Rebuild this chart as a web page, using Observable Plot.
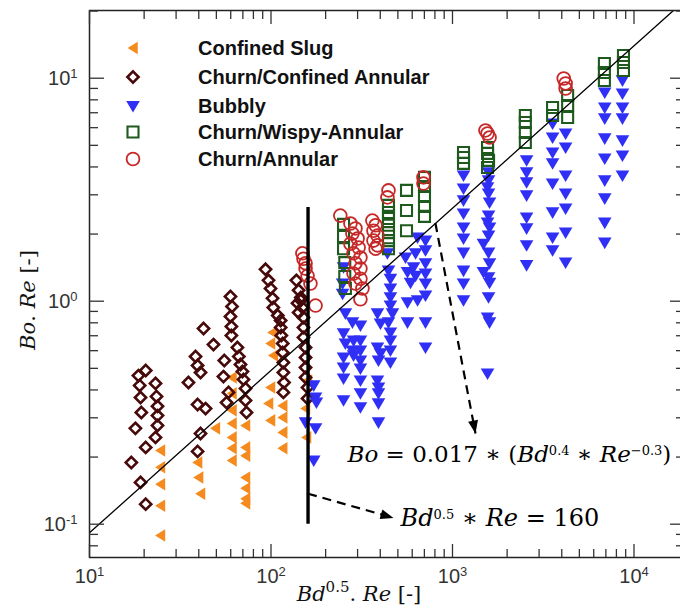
<!DOCTYPE html>
<html>
<head>
<meta charset="utf-8">
<script src="https://cdn.jsdelivr.net/npm/d3@7"></script>
<script src="https://cdn.jsdelivr.net/npm/@observablehq/plot@0.6"></script>
<style>
  html, body { margin: 0; padding: 0; background: #fff; overflow: hidden; }
  #chart { position: relative; width: 680px; height: 608px; overflow: hidden; }
</style>
</head>
<body>
<div id="chart"></div>
<script>
// ---------------- DATA ----------------
const seriesNames = ["Confined Slug", "Churn/Confined Annular", "Bubbly", "Churn/Wispy-Annular", "Churn/Annular"];

// [Bd^0.5.Re, Bo.Re]
const confinedSlug = [
  [24.6,0.214],[24.6,0.180],[24.6,0.151],[24.6,0.121],[24.6,0.089],
  [39.4,0.189],[39.9,0.162],[40.9,0.137],[49.4,0.269],
  [61,0.455],[61,0.386],[61,0.324],[61,0.283],[61,0.245],[61,0.219],[61,0.193],
  [72.4,0.277],[72.4,0.221],[72.4,0.203],[72.4,0.162],[72.4,0.145],[72.4,0.130],[72.4,0.124],
  [102,0.724],[99.4,0.646],[103,0.571],[99.4,0.410],[96.9,0.348],[99.4,0.292],
  [116,0.340],[116,0.301],[116,0.258],[116,0.219],
  [159,0.441],[155,0.330],[157,0.245]
];
const churnConfinedAnnular = [
  [20.4,0.489],[18.6,0.464],[18.9,0.419],[19.1,0.370],[19.3,0.317],[17.9,0.269],[20.4,0.221],[17.0,0.189],[19.1,0.154],[20.4,0.123],
  [23.1,0.428],[23.4,0.374],[23.7,0.338],[23.7,0.307],[23.7,0.277],[23.1,0.245],
  [42.5,0.754],[48.2,0.639],[38.4,0.565],[39.4,0.515],[40.9,0.479],[35.1,0.432],[39.4,0.344],[43.6,0.330],[40.9,0.255],[39.4,0.212],
  [59.8,1.05],[61,0.947],[59.8,0.854],[60.5,0.770],[60.5,0.702],[65.3,0.620],[66.5,0.565],[55.3,0.542],[67.9,0.520],[69.6,0.484],
  [54.7,0.459],[70.5,0.446],[72.4,0.406],[58.3,0.390],[72.4,0.359],[56.9,0.351],[73.3,0.317],
  [93.3,1.39],[96.9,1.24],[99.4,1.14],[102,1.03],[103,0.937],[109,0.863],[113,0.819],[113,0.762],[114,0.702],[116,0.646],
  [116,0.589],[117,0.531],[117,0.479],[118,0.432],[117,0.390],
  [138,1.24],[142,1.12],[146,1.04],[149,0.937],[142,0.890],[151,0.845],[151,0.762],[151,0.688],[155,0.620],[155,0.559],
  [155,0.504],[155,0.455],[159,0.410],[159,0.366],[140,0.98],[146,1.01]
];
const bubbly = [
  [172,0.419],[176,0.370],[178,0.351],[155,0.286],[176,0.269],[172,0.193],
  [251,1.42],[248,1.20],[248,1.08],[257,0.881],[251,0.717],[257,0.646],[251,0.559],[251,0.504],[251,0.450],[251,0.359],
  [281,0.803],[285,0.666],[281,0.601],[285,0.571],
  [311,0.778],[311,0.666],[311,0.601],[311,0.542],[311,0.499],[311,0.441],[311,0.386],[311,0.334],
  [386,0.881],[401,0.794],[386,0.620],[401,0.583],[391,0.542],[386,0.441],[391,0.410],[391,0.386],[391,0.348],[391,0.286],
  [438,1.64],[444,1.37],[455,1.26],[455,1.14],[455,1.04],[455,0.956],[467,0.881],[444,0.803],[455,0.724],[455,0.666],[455,0.601],[455,0.531],
  [551,1.57],[565,1.35],[587,1.21],[610,1.42],[626,1.30],[626,1.64],[642,1.93],[710,1.87],[710,1.69],[710,1.48],[710,1.33],
  [710,1.20],[710,1.06],[642,1.01],[565,0.987],[565,0.803],[710,0.803],[710,0.620],
  [1150,3.66],[1150,3.20],[1150,2.83],[1150,2.47],[1150,2.14],[1150,1.91],[1150,1.65],[1150,1.37],[1150,1.20],[1150,1.01],
  [1580,3.78],[1580,3.48],[1560,3.24],[1580,3.04],[1600,2.77],[1580,2.42],[1560,2.25],[1600,2.14],[1580,1.97],[1480,1.81],
  [1580,1.65],[1600,1.48],[1480,1.35],[1580,1.28],[1600,1.21],[1580,1.04],[1560,0.845],[1600,0.803],[1560,0.474],
  [2560,4.28],[2560,3.78],[2560,3.41],[2560,2.98],[2560,2.37],[2560,2.12],[2560,1.78],[2560,1.45],
  [3560,6.26],[3560,5.42],[3560,4.64],[3560,4.15],[3560,3.37],[3560,2.50],[3560,1.93],[3560,1.69],
  [4200,5.65],[4200,4.89],[4200,3.66],[4200,3.04],[4200,2.60],[4200,2.03],[4200,1.49],
  [6900,8.63],[6900,7.39],[6900,6.60],[6900,5.37],[6900,4.36],[6900,3.48],[6900,2.89],[6900,2.25],[6900,1.83],
  [8640,9.77],[8640,8.54],[8640,7.39],[8640,6.60],[8640,5.26],[8640,4.50],[8640,3.66]
];
const churnWispyAnnular = [
  [251,2.21],[251,1.95],[251,1.72],[255,1.49],[255,1.29],[257,1.14],
  [444,2.69],[444,2.50],[444,2.35],[444,2.19],[444,2.03],[444,1.87],[444,1.72],
  [558,3.14],[558,2.55],[558,2.07],
  [701,3.59],[701,3.27],[701,2.95],[701,2.66],[701,2.40],
  [1150,4.64],[1150,4.41],[1150,4.15],
  [1560,4.89],[1560,4.60],[1580,4.28],[1560,3.98],
  [2520,6.80],[2520,6.33],[2520,5.71],[2520,5.15],
  [3560,7.39],[3560,6.80],
  [4310,8.36],[4310,7.54],[4310,6.66],
  [6870,11.64],[6870,10.61],[6870,9.77],
  [8750,12.64],[8750,11.76],[8750,10.83]
];
const churnAnnular = [
  [149,1.64],[151,1.55],[155,1.48],[155,1.40],[159,1.30],[165,1.20],[176,0.956],
  [241,2.42],
  [274,2.23],[292,2.12],[281,2.01],[300,1.91],[274,1.81],[304,1.74],[285,1.64],[311,1.57],[292,1.48],[311,1.40],
  [285,1.33],[311,1.26],[292,1.20],[319,1.14],[311,1.02],
  [362,2.30],[377,2.19],[367,2.07],[386,1.97],[367,1.87],[386,1.78],[377,1.72],
  [444,3.14],[438,2.92],
  [692,3.59],[692,3.37],
  [1520,5.83],[1560,5.65],[1600,5.42],
  [4100,9.97],[4200,9.47],[4200,8.99]
];

// correlation line and transition boundary
const fitLine = [[10, 0.0915], [16500, 20.1]];
const boundaryX = [160];
const boundaryY = [0.1, 2.63];

// annotations: arrow start/end and label anchors
const arrows = [
  {x1: 805, y1: 2.24, x2: 1339, y2: 0.255},
  {x1: 160, y1: 0.137, x2: 473, y2: 0.1067}
];
const annotations = [
  {x: 264, y: 0.2054, label: "~Bo~ = 0.017 ∗ (~Bd~^{0.4} ∗ ~Re~^{−0.3})", size: 23},
  {x: 517, y: 0.1068, label: "~Bd~^{0.5} ∗ ~Re~ = 160", size: 24}
];

// axes
const xDomain = [10, 18980];
const yDomain = [0.0709, 20.12];
const xMajor = [10, 100, 1000, 10000];
const yMajor = [0.1, 1, 10];
const minorMult = [2, 3, 4, 5, 6, 7, 8, 9];
const xTitle = "~Bd~^{0.5}. ~Re~ [-]";
const yTitle = "~Bo~. ~Re~ [-]";

// ---------------- STYLES ----------------
const rad = s => Math.sqrt(s / Math.PI);
const symTriLeft = {draw(c, s) { const r = rad(s); c.moveTo(-0.85*r, 0); c.lineTo(0.75*r, -r); c.lineTo(0.75*r, r); c.closePath(); }};
const symDiamond = {draw(c, s) { const r = rad(s); c.moveTo(0, -r); c.lineTo(r, 0); c.lineTo(0, r); c.lineTo(-r, 0); c.closePath(); }};
const symTriDown = {draw(c, s) { const r = rad(s); c.moveTo(-r, -0.75*r); c.lineTo(r, -0.75*r); c.lineTo(0, 0.95*r); c.closePath(); }};
const symSquare  = {draw(c, s) { const r = rad(s); c.moveTo(-r, -r); c.lineTo(r, -r); c.lineTo(r, r); c.lineTo(-r, r); c.closePath(); }};
const symCircle  = {draw(c, s) { const r = rad(s); c.moveTo(r, 0); c.arc(0, 0, r, 0, 2 * Math.PI); c.closePath(); }};
function headSymbol(dx, dy, L = 13, Wd = 10) {
  const n = Math.hypot(dx, dy), ux = dx / n, uy = dy / n, px = -uy, py = ux;
  return {draw(c) {
    c.moveTo(0, 0);
    c.lineTo(-ux * L + px * Wd / 2, -uy * L + py * Wd / 2);
    c.lineTo(-ux * L - px * Wd / 2, -uy * L - py * Wd / 2);
    c.closePath();
  }};
}

const styles = [
  {symbol: symTriLeft, r: 6.3, fill: "#f58a1f", stroke: "none",    sw: 0},
  {symbol: symDiamond, r: 5.6, fill: "none",    stroke: "#460a0a", sw: 2.6},
  {symbol: symTriDown, r: 6.8, fill: "#2f2ff5", stroke: "none",    sw: 0},
  {symbol: symSquare,  r: 5.5, fill: "none",    stroke: "#1e5a1e", sw: 2.1},
  {symbol: symCircle,  r: 6.4, fill: "none",    stroke: "#c62828", sw: 1.8}
];
const seriesData = [confinedSlug, churnConfinedAnnular, bubbly, churnWispyAnnular, churnAnnular];

const px = d => d[0], py = d => d[1];
const xMinor = xMajor.flatMap(m => minorMult.map(k => m * k)).filter(v => v < xDomain[1]);
const yMinor = [0.01, ...yMajor].flatMap(m => minorMult.map(k => m * k)).filter(v => v > yDomain[0] && v < yDomain[1]);
const tickColor = "#333";
const sciFmt = d => `10^{${Math.round(Math.log10(d))}}`;
const blank = () => "";

const dotMarks = seriesData.map((data, i) => Plot.dot(data, {
  x: px, y: py, symbol: styles[i].symbol, r: styles[i].r,
  fill: styles[i].fill, stroke: styles[i].stroke, strokeWidth: styles[i].sw
}));

const svg = Plot.plot({
  width: 684, height: 608,
  marginTop: 10, marginRight: 0, marginBottom: 51, marginLeft: 89,
  x: {type: "log", domain: xDomain, label: null},
  y: {type: "log", domain: yDomain, label: null},
  style: {fontFamily: "'Liberation Sans', Arial, sans-serif", background: "white"},
  marks: [
    ...dotMarks,
    Plot.line(fitLine, {x: px, y: py, stroke: "black", strokeWidth: 1.3, clip: true}),
    Plot.ruleX(boundaryX, {y1: boundaryY[0], y2: boundaryY[1], stroke: "black", strokeWidth: 3.4}),
    Plot.link(arrows, {x1: "x1", y1: "y1", x2: "x2", y2: "y2", stroke: "black", strokeWidth: 2.2, strokeDasharray: "9,6"}),
    Plot.dot([arrows[0]], {x: "x2", y: "y2", r: 1, symbol: headSymbol(40, 209), fill: "black", stroke: "none"}),
    Plot.dot([arrows[1]], {x: "x2", y: "y2", r: 1, symbol: headSymbol(83, 24), fill: "black", stroke: "none"}),
    ...annotations.map(a => Plot.text([a], {x: "x", y: "y", text: "label", textAnchor: "start", lineAnchor: "middle",
      fontFamily: "'DejaVu Serif', serif", fontSize: a.size, fill: "black", ariaLabel: "annotation"})),
    Plot.frame({stroke: "#222", strokeWidth: 1.5}),
    // inward ticks on all four sides
    Plot.axisX(xMajor, {anchor: "bottom", tickSize: -13, tickFormat: blank, stroke: tickColor, strokeWidth: 1.3, label: null}),
    Plot.axisX(xMinor, {anchor: "bottom", tickSize: -8, tickFormat: blank, stroke: tickColor, strokeWidth: 1.3, label: null}),
    Plot.axisX(xMajor, {anchor: "top", tickSize: -13, tickFormat: blank, stroke: tickColor, strokeWidth: 1.3, label: null}),
    Plot.axisX(xMinor, {anchor: "top", tickSize: -8, tickFormat: blank, stroke: tickColor, strokeWidth: 1.3, label: null}),
    Plot.axisY(yMajor, {anchor: "left", tickSize: -15, tickFormat: blank, stroke: tickColor, strokeWidth: 1.3, label: null}),
    Plot.axisY(yMinor, {anchor: "left", tickSize: -9, tickFormat: blank, stroke: tickColor, strokeWidth: 1.3, label: null}),
    Plot.axisY(yMajor, {anchor: "right", tickSize: -15, tickFormat: blank, stroke: tickColor, strokeWidth: 1.3, label: null}),
    Plot.axisY(yMinor, {anchor: "right", tickSize: -9, tickFormat: blank, stroke: tickColor, strokeWidth: 1.3, label: null}),
    // tick labels
    Plot.axisX(xMajor, {anchor: "bottom", tickSize: 0, tickPadding: 11, tickFormat: sciFmt, fontSize: 20, fill: "#333", label: null}),
    Plot.axisY(yMajor, {anchor: "left", tickSize: 0, tickPadding: 12, tickFormat: sciFmt, fontSize: 20, fill: "#333", label: null})
  ]
});
svg.style.maxWidth = "none";
document.getElementById("chart").appendChild(svg);

// rich text: ^{..} superscript, ~..~ italic
const NS = "http://www.w3.org/2000/svg";
function richify(el, supSize, supShift) {
  const s = el.textContent;
  if (!/[\^~]/.test(s)) return;
  const tokens = s.split(/(\^\{[^}]*\}|~[^~]*~)/).filter(t => t);
  while (el.firstChild) el.removeChild(el.firstChild);
  let raised = false;
  for (const tok of tokens) {
    const ts = document.createElementNS(NS, "tspan");
    if (tok.startsWith("^{")) {
      ts.textContent = tok.slice(2, -1);
      ts.style.fontSize = supSize + "px";
      ts.style.fontStyle = "normal";
      ts.setAttribute("dy", -supShift);
      raised = true;
    } else {
      if (tok.startsWith("~")) { ts.textContent = tok.slice(1, -1); ts.style.fontStyle = "italic"; }
      else ts.textContent = tok;
      if (raised) { ts.setAttribute("dy", supShift); raised = false; }
    }
    el.appendChild(ts);
  }
}
svg.querySelectorAll('g[aria-label="annotation"] text').forEach(t => richify(t, 16, 10));
svg.querySelectorAll("text").forEach(t => { if (t.textContent.includes("^{")) richify(t, 13, 7); });

const root = d3.select(svg);
// axis titles
const xt = root.append("text").attr("x", 359).attr("y", 601).attr("text-anchor", "middle")
  .attr("font-family", "'DejaVu Serif', serif").attr("font-size", 21).attr("fill", "#111").text(xTitle);
richify(xt.node(), 15, 9);
const yt = root.append("text").attr("transform", "translate(28,300) rotate(-90)").attr("text-anchor", "middle")
  .attr("dy", "0.35em").attr("font-family", "'DejaVu Serif', serif").attr("font-size", 21).attr("fill", "#111").text(yTitle);
richify(yt.node(), 15, 9);

// legend
const legendRows = [48, 77, 106, 132, 159];
const lg = root.append("g");
seriesNames.forEach((name, i) => {
  const st = styles[i];
  lg.append("path").attr("transform", `translate(133,${legendRows[i]})`)
    .attr("d", d3.symbol(st.symbol, Math.PI * st.r * st.r)())
    .attr("fill", st.fill).attr("stroke", st.stroke).attr("stroke-width", st.sw);
  lg.append("text").attr("x", 198).attr("y", legendRows[i]).attr("dy", "0.36em")
    .attr("text-anchor", "start")
    .attr("font-family", "'Liberation Sans', Arial, sans-serif").attr("font-weight", "bold")
    .attr("font-size", 20).attr("fill", "#111").text(name);
});
</script>
</body>
</html>
